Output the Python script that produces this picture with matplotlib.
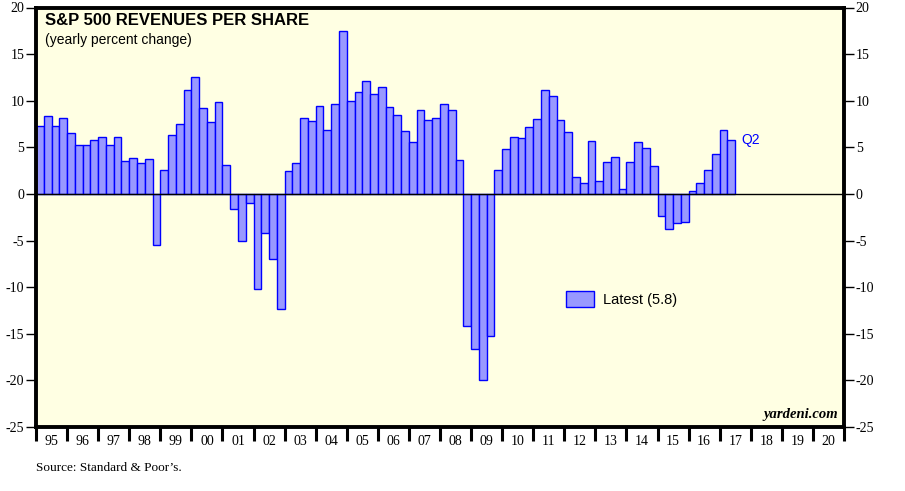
import numpy as np
import matplotlib
matplotlib.use("Agg")
import matplotlib.pyplot as plt

# quarterly yearly % change, 1995 Q1 .. 2017 Q2
start_year = 1995
values = [
    7.3, 8.4, 7.3, 8.1,      # 95
    6.5, 5.2, 5.2, 5.8,      # 96
    6.1, 5.2, 6.1, 3.5,      # 97
    3.9, 3.3, 3.8, -5.5,     # 98
    2.6, 6.3, 7.5, 11.1,     # 99
    12.5, 9.2, 7.7, 9.9,     # 00
    3.1, -1.6, -5.0, -1.0,   # 01
    -10.2, -4.2, -7.0, -12.3,  # 02
    2.5, 3.3, 8.1, 7.8,      # 03
    9.4, 6.9, 9.7, 17.5,     # 04
    10.0, 10.9, 12.1, 10.7,  # 05
    11.5, 9.3, 8.5, 6.7,     # 06
    5.6, 9.0, 7.9, 8.1,      # 07
    9.6, 9.0, 3.6, -14.2,    # 08
    -16.6, -20.0, -15.2, 2.6,  # 09
    4.8, 6.1, 6.0, 7.2,      # 10
    8.0, 11.2, 10.5, 7.9,    # 11
    6.6, 1.8, 1.2, 5.7,      # 12
    1.4, 3.4, 4.0, 0.5,      # 13
    3.4, 5.6, 4.9, 3.0,      # 14
    -2.4, -3.8, -3.1, -3.0,  # 15
    0.3, 1.2, 2.6, 4.3,      # 16
    6.9, 5.8,                # 17
]
year_labels = ["95", "96", "97", "98", "99", "00", "01", "02", "03", "04",
               "05", "06", "07", "08", "09", "10", "11", "12", "13", "14",
               "15", "16", "17", "18", "19", "20"]
y_ticks = [20, 15, 10, 5, 0, -5, -10, -15, -20, -25]
latest_label = "Latest (5.8)"

serif = "Liberation Serif"
sans = "Liberation Sans"

fig = plt.figure(figsize=(9.05, 4.91), dpi=100)
ax = fig.add_axes([36 / 905, 1 - 427 / 491, 808 / 905, 419.5 / 491])
ax.set_facecolor("#FFFFE3")

x = start_year + np.arange(len(values)) * 0.25
bars = ax.bar(x, values, width=0.25, align="edge", color="#9999FF",
              edgecolor="#0000FF", linewidth=1.0, zorder=2, label=latest_label)
ax.axhline(0, color="black", lw=1.0, zorder=3)

ax.set_xlim(start_year, start_year + len(year_labels))
ax.set_ylim(-25, 20)

for s in ax.spines.values():
    s.set_linewidth(2.8)

ax.set_yticks(y_ticks)
ax.set_yticklabels([str(v) for v in y_ticks], fontfamily=serif, fontsize=10)
ax.tick_params(axis="y", which="both", direction="out", length=7, width=1,
               left=True, right=True, labelleft=True, labelright=True, pad=1.5)

# year boundary ticks, labels centered in between
ax.set_xticks(start_year + np.arange(len(year_labels) + 1))
ax.set_xticklabels([])
ax.set_xticks(start_year + np.arange(len(year_labels)) + 0.5, minor=True)
ax.set_xticklabels(year_labels, minor=True, fontfamily=serif, fontsize=10)
ax.tick_params(axis="x", which="major", direction="out", length=10, width=2.2)
ax.tick_params(axis="x", which="minor", length=0, pad=6)

# labels
fig.text(45 / 905, 1 - 25 / 491, "S&P 500 REVENUES PER SHARE", fontfamily=sans,
         fontweight="bold", fontsize=12, va="baseline")
fig.text(45 / 905, 1 - 44 / 491, "(yearly percent change)", fontfamily=sans,
         fontsize=10, va="baseline")
ax.text(x[-1] + 0.25 + 0.2, values[-1], "Q2", color="#0000FF", fontfamily=sans,
        fontsize=10, va="center", ha="left")
ax.text(0.993, 0.015, "yardeni.com", transform=ax.transAxes, ha="right",
        va="bottom", fontfamily=serif, fontstyle="italic", fontweight="bold",
        fontsize=10.5)
fig.text(36 / 905, 1 - 468 / 491, "Source: Standard & Poor\u2019s.", fontfamily=serif,
         fontsize=9.5, va="center")

leg = ax.legend(handles=[bars], loc="center left",
                bbox_to_anchor=(553 / 808 - 36 / 808, (427 - 299) / 419.5),
                frameon=False, handlelength=1.9, handleheight=1.25,
                handletextpad=0.6, prop={"family": sans, "size": 10.5})

fig.savefig("out.png", dpi=100)
